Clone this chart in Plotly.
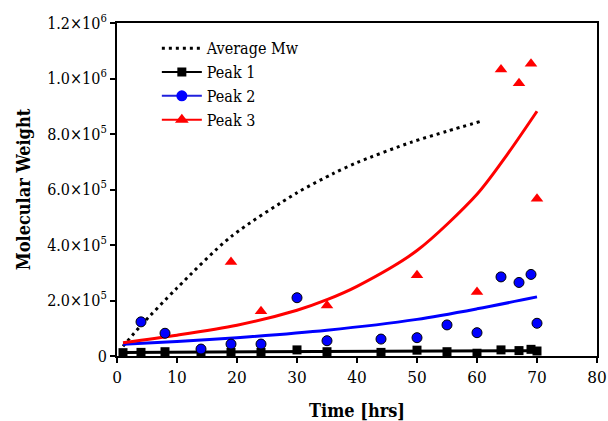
import plotly.graph_objects as go

# Measured molecular weight per peak vs. time
peak1_t = [1, 4, 8, 14, 19, 24, 30, 35, 44, 50, 55, 60, 64, 67, 69, 70]
peak1_mw = [12000, 13000, 15500, 10000, 13000, 13000, 22000, 15500,
            13000, 21000, 15500, 10000, 22000, 19500, 24000, 18000]

peak2_t = [4, 8, 14, 19, 24, 30, 35, 44, 50, 55, 60, 64, 67, 69, 70]
peak2_mw = [123000, 82000, 25000, 43000, 43000, 210000, 55000,
            61000, 66000, 112000, 84000, 285000, 265000, 294000, 118000]

peak3_t = [19, 24, 35, 50, 60, 64, 67, 69, 70]
peak3_mw = [339000, 161000, 182000, 291000, 231000,
            1032000, 983000, 1053000, 567000]

# Fitted trend curves
avg_fit_t = [1, 4, 10, 19, 30, 36, 40, 49, 55, 60.7]
avg_fit_mw = [35000, 110000, 245000, 430000, 588000, 657000,
              697000, 770000, 810000, 846000]

peak1_fit_t = [1, 70]
peak1_fit_mw = [13000, 19000]

peak2_fit_t = [1, 10, 20, 35, 50, 60, 70]
peak2_fit_mw = [42000, 52000, 66000, 93000, 132000, 170000, 213000]

peak3_fit_t = [1, 10, 20, 30, 35, 40, 50, 60, 65, 70]
peak3_fit_mw = [48000, 75000, 111000, 165000, 203000, 251000,
                380000, 583000, 725000, 882000]

y_ticks = [0, 200000, 400000, 600000, 800000, 1000000, 1200000]
y_tick_text = ["0", "2.0×10<sup>5</sup>", "4.0×10<sup>5</sup>",
               "6.0×10<sup>5</sup>", "8.0×10<sup>5</sup>",
               "1.0×10<sup>6</sup>", "1.2×10<sup>6</sup>"]
x_ticks = [0, 10, 20, 30, 40, 50, 60, 70, 80]

BLUE = "#0000ff"
RED = "#ff0000"
BLACK = "#000000"
FONT = "DejaVu Serif Condensed, DejaVu Serif, serif"

fig = go.Figure()

# Trend lines
fig.add_trace(go.Scatter(x=avg_fit_t, y=avg_fit_mw, mode="lines", name="Average Mw",
                         line=dict(color=BLACK, width=3, dash="3px,4px",
                                   shape="spline", smoothing=0.8)))
fig.add_trace(go.Scatter(x=peak1_fit_t, y=peak1_fit_mw, mode="lines", showlegend=False,
                         line=dict(color=BLACK, width=3)))
fig.add_trace(go.Scatter(x=peak2_fit_t, y=peak2_fit_mw, mode="lines", showlegend=False,
                         line=dict(color=BLUE, width=3, shape="spline", smoothing=0.8)))
fig.add_trace(go.Scatter(x=peak3_fit_t, y=peak3_fit_mw, mode="lines", showlegend=False,
                         line=dict(color=RED, width=3, shape="spline", smoothing=0.8)))

# Data points
fig.add_trace(go.Scatter(x=peak1_t, y=peak1_mw, mode="markers", showlegend=False,
                         marker=dict(symbol="square", size=9, color=BLACK)))
fig.add_trace(go.Scatter(x=peak2_t, y=peak2_mw, mode="markers", showlegend=False,
                         marker=dict(symbol="circle", size=10, color=BLUE,
                                     line=dict(color=BLACK, width=1))))
fig.add_trace(go.Scatter(x=peak3_t, y=peak3_mw, mode="markers", showlegend=False,
                         marker=dict(symbol="triangle-up", size=11, color=RED)))

# Legend entries combining line and marker
fig.add_trace(go.Scatter(x=[None], y=[None], mode="lines+markers", name="Peak 1",
                         line=dict(color=BLACK, width=2),
                         marker=dict(symbol="square", size=9, color=BLACK)))
fig.add_trace(go.Scatter(x=[None], y=[None], mode="lines+markers", name="Peak 2",
                         line=dict(color="#2020dd", width=2),
                         marker=dict(symbol="circle", size=11, color=BLUE)))
fig.add_trace(go.Scatter(x=[None], y=[None], mode="lines+markers", name="Peak 3",
                         line=dict(color=RED, width=2),
                         marker=dict(symbol="triangle-up", size=12, color=RED)))

fig.update_layout(
    width=608, height=421,
    margin=dict(l=117, r=11, t=23, b=65),
    paper_bgcolor="white", plot_bgcolor="white",
    font=dict(family=FONT, size=16, color=BLACK),
    showlegend=True,
    legend=dict(x=0.083, y=0.975, xanchor="left", yanchor="top",
                bgcolor="rgba(0,0,0,0)", font=dict(family=FONT, size=16),
                itemwidth=40, tracegroupgap=0),
    xaxis=dict(range=[0, 80], tickvals=x_ticks, ticks="outside", ticklen=5,
               tickwidth=1.5, tickcolor=BLACK, showline=True, linecolor=BLACK,
               linewidth=2, mirror=True, showgrid=False, zeroline=False,
               automargin=False,
               tickfont=dict(family=FONT, size=17),
               title=dict(text="<b>Time [hrs]</b>", font=dict(family=FONT, size=18),
                          standoff=18)),
    yaxis=dict(range=[0, 1200000], tickvals=y_ticks, ticktext=y_tick_text,
               ticks="outside", ticklen=5, tickwidth=1.5, tickcolor=BLACK,
               showline=True, linecolor=BLACK, linewidth=2, mirror=True,
               showgrid=False, zeroline=False, automargin=False,
               tickfont=dict(family=FONT, size=16),
               title=dict(text="<b>Molecular Weight</b>", font=dict(family=FONT, size=18),
                          standoff=12)),
)

fig.write_html("out.html")
